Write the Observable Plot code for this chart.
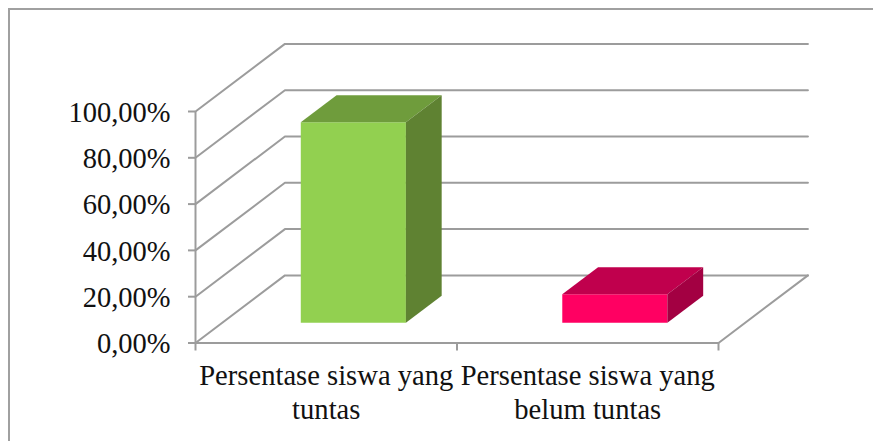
<!DOCTYPE html>
<html>
<head>
<meta charset="utf-8">
<script src="https://cdn.jsdelivr.net/npm/d3@7"></script>
<script src="https://cdn.jsdelivr.net/npm/@observablehq/plot@0.6"></script>
<style>
  html, body { margin: 0; padding: 0; background: #fff; overflow: hidden; }
  #frame { position: absolute; left: 8px; top: 8px; width: 900px; height: 500px; border: 2px solid #a0a0a0; box-sizing: border-box; }
  #chart { position: absolute; left: 0; top: 0; }
</style>
</head>
<body>
<div id="frame"></div>
<div id="chart"></div>
<script>
// Completion rates per group, in percent
const categories = ["Persentase siswa yang\ntuntas", "Persentase siswa yang\nbelum tuntas"];
const values = [86.6, 12.3];
const yTicks = [0, 20, 40, 60, 80, 100];

// Shades for each bar: front, top and side faces
const groupNames = ["tuntas", "belum"];
const faceNames = ["front", "top", "side"];
const faceColors = ["#92d050", "#6f9c3c", "#5f8232", "#ff0062", "#c0004d", "#a30042"];

// Oblique projection: one unit of depth moves a point right and up in data units
const depthX = 0.342;
const depthY = 29.2;
const project = (c, v, d, key) => ({x: c + d * depthX, y: v + d * depthY, key});

// Wall and floor lines of the 3D box
const gridLines = yTicks.flatMap((v) => [
  project(0, v, 0, v),
  project(0, v, 1, v),
  project(categories.length, v, 1, v)
]);
const floorLine = [
  project(categories.length, 0, 1, "floor"),
  project(categories.length, 0, 0, "floor"),
  project(0, 0, 0, "floor")
];

// Bars sit between these positions within their category and within the depth
const barStart = 0.3, barEnd = 0.702, depthStart = 0.3, depthEnd = 0.7;

const faces = values.flatMap((v, i) => {
  const a = i + barStart, b = i + barEnd;
  const key = (f) => `${groupNames[i]}-${f}`;
  return [
    [a, 0, depthStart, "front"], [b, 0, depthStart, "front"], [b, v, depthStart, "front"], [a, v, depthStart, "front"],
    [a, v, depthStart, "top"], [b, v, depthStart, "top"], [b, v, depthEnd, "top"], [a, v, depthEnd, "top"],
    [b, 0, depthStart, "side"], [b, 0, depthEnd, "side"], [b, v, depthEnd, "side"], [b, v, depthStart, "side"]
  ].map(([c, h, d, f]) => project(c, h, d, key(f)));
});

const colorDomain = groupNames.flatMap((g) => faceNames.map((f) => `${g}-${f}`));
const percent = (d) => d.toFixed(2).replace(".", ",") + "%";
const gray = "#9c9c9c";
const serif = "'Liberation Serif', serif";

const plot = Plot.plot({
  width: 873,
  height: 441,
  marginLeft: 195,
  marginRight: 155,
  marginTop: 111,
  marginBottom: 98.5,
  style: {background: "transparent", fontFamily: serif},
  x: {domain: [0, categories.length], axis: null},
  y: {domain: [0, 100]},
  color: {type: "ordinal", domain: colorDomain, range: faceColors},
  marks: [
    Plot.line(gridLines, {x: "x", y: "y", z: "key", stroke: gray, strokeWidth: 2}),
    Plot.line(floorLine, {x: "x", y: "y", z: "key", stroke: gray, strokeWidth: 2}),
    Plot.ruleX([0], {y1: 0, y2: 100, stroke: gray, strokeWidth: 2}),
    // Tick marks and tick labels are separate so the labels can sit a little lower
    Plot.axisY({ticks: yTicks, tickSize: 7, text: null, label: null, stroke: gray, strokeWidth: 2}),
    Plot.axisY({
      ticks: yTicks, tickSize: 0, tickPadding: 25, tickFormat: percent,
      label: null, fill: "#111", fontSize: 28.5, dy: 1
    }),
    Plot.axisX({
      ticks: d3.range(categories.length + 1), tickSize: 8, tickFormat: () => "",
      label: null, anchor: "bottom", stroke: gray, strokeWidth: 2
    }),
    Plot.line(faces, {x: "x", y: "y", z: "key", fill: "key", stroke: "none"}),
    Plot.text(categories, {
      x: (d, i) => i + 0.5,
      y: 0,
      text: (d) => d,
      dy: 18,
      lineAnchor: "top",
      lineHeight: 1.18,
      fontSize: 28.6,
      fill: "#111"
    })
  ]
});
document.getElementById("chart").append(plot);
</script>
</body>
</html>
